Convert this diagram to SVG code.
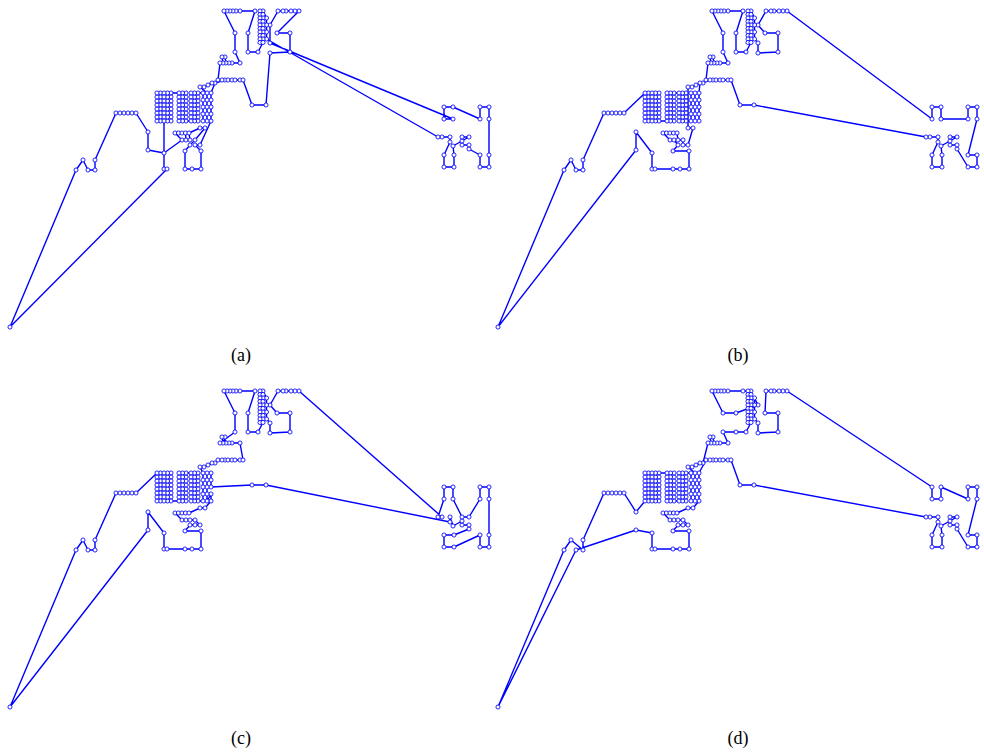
<svg xmlns="http://www.w3.org/2000/svg" xmlns:xlink="http://www.w3.org/1999/xlink" width="984" height="755" viewBox="0 0 984 755">
<style>
.tour{fill:none;stroke:#0000ff;stroke-width:1.4;stroke-linejoin:round}
.cities{fill:none;stroke:none;marker-start:url(#dot);marker-mid:url(#dot);marker-end:url(#dot)}
.cap{font-family:"Liberation Serif","DejaVu Serif",serif;font-size:18px;fill:#000;text-anchor:middle}
</style>
<defs>
<marker id="dot" viewBox="-3 -3 6 6" refX="0" refY="0" markerWidth="6" markerHeight="6" markerUnits="userSpaceOnUse" orient="0" overflow="visible"><circle r="2.05" fill="#fff" stroke="#0000ff" stroke-width="0.85"/></marker>
<polyline id="cities" class="cities" points="10,327 76,170 83,160 88,170 95,170 95,160 116,113 120,113 124,113 128,113 132,113 136,113 148,132 148,150 164,153 182,140 175,133 178.5,133 182,133 185.5,133 186,140 190,140 189,133 200,128 205,128 195,140 190,145 185,151 185,169 192,169 201,169 201,151 195,145 200,145 211,121 211,114 211,107 211,100 211,93 215,83 225,80 228,80 232,80 235,80 240,80 243,80 252,105 266,105 270,53 290,52 290,33 277,33 299,11 295,11 291,11 286,11 283,11 278,11 270,25 270,43 453,119 444,119 444,107 453,107 480,119 480,107 489,107 489,119 489,155 489,167 480,167 480,155 469,149 469,145 462,145 462,141 462,137 469,137 453,146 454,155 454,167 444,167 444,155 450,142 450,137 442,137 438,137 266.5,39 266.5,32 266.5,25 266.5,18 263,11 260,11 260,14.5 263,14.5 263,18 260,18 260,21.5 263,21.5 263,25 260,25 260,28.5 263,28.5 263,32 260,32 260,35.5 263,35.5 263,39 260,39 260,42.5 263,42.5 258,52 248,52 248,33 255,11 240,11 236,11 233,11 230,11 227,11 224,11 235,33 235,52 240,63 232,63 229,63 226,63 225,57 222,57 223,63 220,63 218,80 222,80 212,83 208,85 204,87 200,87 207,93 207,100 207,107 207,114 207,121 203,121 203,114 203,107 203,100 203,93 198,93 198,97 198,101 198,105 198,109 198,113 198,117 198,121 194.5,121 194.5,117 194.5,113 194.5,109 194.5,105 194.5,101 194.5,97 194.5,93 191,93 191,97 191,101 191,105 191,109 191,113 191,117 191,121 186,121 186,117 186,113 186,109 186,105 186,101 186,97 186,93 182.5,93 182.5,97 182.5,101 182.5,105 182.5,109 182.5,113 182.5,117 182.5,121 179,121 179,117 179,113 179,109 179,105 179,101 179,97 179,93 171,93 171,97 171,101 171,105 171,109 171,113 171,117 171,121 167.5,121 167.5,117 167.5,113 167.5,109 167.5,105 167.5,101 167.5,97 167.5,93 160.5,93 160.5,97 160.5,101 160.5,105 160.5,109 160.5,113 160.5,117 160.5,121 157,121 157,117 157,113 157,109 157,105 157,101 157,97 157,93 164,93 164,97 164,101 164,105 164,109 164,113 164,117 164,121 164,169 167,169"/>
</defs>

<g id="panel-a">
<g id="panel-a-connectors">
<polygon class="tour" points="10,327 76,170 83,160 88,170 95,170 95,160 116,113 120,113 124,113 128,113 132,113 136,113 148,132 148,150 164,153 182,140 175,133 178.5,133 182,133 185.5,133 186,140 190,140 189,133 200,128 205,128 195,140 190,145 185,151 185,169 192,169 201,169 201,151 195,145 200,145 211,121 211,114 211,107 211,100 211,93 215,83 225,80 228,80 232,80 235,80 240,80 243,80 252,105 266,105 270,53 290,52 290,33 277,33 299,11 295,11 291,11 286,11 283,11 278,11 270,25 270,43 453,119 444,119 444,107 453,107 480,119 480,107 489,107 489,119 489,155 489,167 480,167 480,155 469,149 469,145 462,145 462,141 462,137 469,137 453,146 454,155 454,167 444,167 444,155 450,142 450,137 442,137 438,137 266.5,39 266.5,32 266.5,25 266.5,18 263,11 260,11 260,14.5 263,14.5 263,18 260,18 260,21.5 263,21.5 263,25 260,25 260,28.5 263,28.5 263,32 260,32 260,35.5 263,35.5 263,39 260,39 260,42.5 263,42.5 258,52 248,52 248,33 255,11 240,11 236,11 233,11 230,11 227,11 224,11 235,33 235,52 240,63 232,63 229,63 226,63 225,57 222,57 223,63 220,63 218,80 222,80 212,83 208,85 204,87 200,87 207,93 207,100 207,107 207,114 207,121 203,121 203,114 203,107 203,100 203,93 198,93 198,97 198,101 198,105 198,109 198,113 198,117 198,121 194.5,121 194.5,117 194.5,113 194.5,109 194.5,105 194.5,101 194.5,97 194.5,93 191,93 191,97 191,101 191,105 191,109 191,113 191,117 191,121 186,121 186,117 186,113 186,109 186,105 186,101 186,97 186,93 182.5,93 182.5,97 182.5,101 182.5,105 182.5,109 182.5,113 182.5,117 182.5,121 179,121 179,117 179,113 179,109 179,105 179,101 179,97 179,93 171,93 171,97 171,101 171,105 171,109 171,113 171,117 171,121 167.5,121 167.5,117 167.5,113 167.5,109 167.5,105 167.5,101 167.5,97 167.5,93 160.5,93 160.5,97 160.5,101 160.5,105 160.5,109 160.5,113 160.5,117 160.5,121 157,121 157,117 157,113 157,109 157,105 157,101 157,97 157,93 164,93 164,97 164,101 164,105 164,109 164,113 164,117 164,121 164,169 167,169"/>
</g>
<g id="panel-a-nodes"><use href="#cities" xlink:href="#cities"/></g>
<text class="cap" x="241" y="361">(a)</text>
</g>

<g id="panel-b" transform="translate(488,0)">
<g id="panel-b-connectors">
<polygon class="tour" points="10,327 76,170 83,160 88,170 95,170 95,160 116,113 120,113 124,113 128,113 132,113 136,113 157,93 157,97 157,101 157,105 157,109 157,113 157,117 157,121 160.5,121 160.5,117 160.5,113 160.5,109 160.5,105 160.5,101 160.5,97 160.5,93 164,93 164,97 164,101 164,105 164,109 164,113 164,117 164,121 167.5,121 167.5,117 167.5,113 167.5,109 167.5,105 167.5,101 167.5,97 167.5,93 171,93 171,97 171,101 171,105 171,109 171,113 171,117 171,121 179,121 179,117 179,113 179,109 179,105 179,101 179,97 179,93 182.5,93 182.5,97 182.5,101 182.5,105 182.5,109 182.5,113 182.5,117 182.5,121 186,121 186,117 186,113 186,109 186,105 186,101 186,97 186,93 191,93 191,97 191,101 191,105 191,109 191,113 191,117 191,121 194.5,121 194.5,117 194.5,113 194.5,109 194.5,105 194.5,101 194.5,97 194.5,93 198,93 198,97 198,101 198,105 198,109 198,113 198,117 198,121 203,121 203,114 203,107 203,100 203,93 207,93 207,100 207,107 207,114 207,121 211,121 211,114 211,107 211,100 211,93 212,83 215,83 218,80 220,63 223,63 222,57 225,57 226,63 229,63 232,63 240,63 235,52 235,33 224,11 227,11 230,11 233,11 236,11 240,11 255,11 248,33 248,52 258,52 263,42.5 260,42.5 260,39 263,39 263,35.5 260,35.5 260,32 263,32 263,28.5 260,28.5 260,25 263,25 263,21.5 260,21.5 260,18 263,18 263,14.5 260,14.5 260,11 263,11 266.5,18 266.5,25 266.5,32 266.5,39 270,43 270,53 290,52 290,33 277,33 270,25 278,11 283,11 286,11 291,11 295,11 299,11 444,119 444,107 453,107 453,119 480,119 480,107 489,107 489,119 480,155 489,155 489,167 480,167 469,149 469,145 462,145 462,141 462,137 469,137 453,146 454,155 454,167 444,167 444,155 450,142 450,137 442,137 438,137 266,105 252,105 243,80 240,80 235,80 232,80 228,80 225,80 222,80 208,85 204,87 200,87 200,128 205,128 200,145 195,145 195,140 190,140 189,133 185.5,133 182,133 178.5,133 175,133 182,140 186,140 190,145 185,151 201,151 201,169 192,169 185,169 167,169 164,169 164,153 148,132 148,150"/>
</g>
<g id="panel-b-nodes"><use href="#cities" xlink:href="#cities"/></g>
<text class="cap" x="250" y="361">(b)</text>
</g>

<g id="panel-c" transform="translate(0,380)">
<g id="panel-c-connectors">
<polygon class="tour" points="10,327 76,170 83,160 88,170 95,170 95,160 116,113 120,113 124,113 128,113 132,113 136,113 157,93 157,97 157,101 157,105 157,109 157,113 157,117 157,121 160.5,121 160.5,117 160.5,113 160.5,109 160.5,105 160.5,101 160.5,97 160.5,93 164,93 164,97 164,101 164,105 164,109 164,113 164,117 164,121 167.5,121 167.5,117 167.5,113 167.5,109 167.5,105 167.5,101 167.5,97 167.5,93 171,93 171,97 171,101 171,105 171,109 171,113 171,117 171,121 179,121 179,117 179,113 179,109 179,105 179,101 179,97 179,93 182.5,93 182.5,97 182.5,101 182.5,105 182.5,109 182.5,113 182.5,117 182.5,121 186,121 186,117 186,113 186,109 186,105 186,101 186,97 186,93 191,93 191,97 191,101 191,105 191,109 191,113 191,117 191,121 194.5,121 194.5,117 194.5,113 194.5,109 194.5,105 194.5,101 194.5,97 194.5,93 198,93 198,97 198,101 198,105 198,109 198,113 198,117 198,121 203,121 203,114 203,107 203,100 203,93 200,87 204,87 208,85 212,83 215,83 218,80 222,80 225,80 228,80 232,80 235,80 240,80 243,80 240,63 232,63 229,63 226,63 225,57 222,57 223,63 220,63 235,52 235,33 224,11 227,11 230,11 233,11 236,11 240,11 255,11 248,33 248,52 258,52 263,42.5 260,42.5 260,39 263,39 263,35.5 260,35.5 260,32 263,32 263,28.5 260,28.5 260,25 263,25 263,21.5 260,21.5 260,18 263,18 263,14.5 260,14.5 260,11 263,11 266.5,18 266.5,25 266.5,32 266.5,39 270,43 270,53 290,52 290,33 277,33 270,25 278,11 283,11 286,11 291,11 295,11 299,11 442,137 438,137 444,119 444,107 453,107 453,119 462,137 469,137 480,119 480,107 489,107 489,119 489,155 489,167 480,167 480,155 454,167 444,167 444,155 454,155 469,149 469,145 462,145 462,141 453,146 450,137 450,142 266,105 252,105 211,107 211,100 211,93 207,93 207,100 207,107 207,114 207,121 211,114 211,121 205,128 200,128 189,133 185.5,133 182,133 178.5,133 175,133 182,140 186,140 190,140 195,140 200,145 195,145 190,145 185,151 201,151 201,169 192,169 185,169 167,169 164,169 164,153 148,132 148,150"/>
</g>
<g id="panel-c-nodes"><use href="#cities" xlink:href="#cities"/></g>
<text class="cap" x="241" y="364">(c)</text>
</g>

<g id="panel-d" transform="translate(488,380)">
<g id="panel-d-connectors">
<polygon class="tour" points="10,327 76,170 83,160 95,170 95,160 116,113 120,113 124,113 128,113 132,113 136,113 148,132 157,121 157,117 157,113 157,109 157,105 157,101 157,97 157,93 160.5,93 160.5,97 160.5,101 160.5,105 160.5,109 160.5,113 160.5,117 160.5,121 164,121 164,117 164,113 164,109 164,105 164,101 164,97 164,93 167.5,93 167.5,97 167.5,101 167.5,105 167.5,109 167.5,113 167.5,117 167.5,121 171,121 171,117 171,113 171,109 171,105 171,101 171,97 171,93 179,93 179,97 179,101 179,105 179,109 179,113 179,117 179,121 182.5,121 182.5,117 182.5,113 182.5,109 182.5,105 182.5,101 182.5,97 182.5,93 186,93 186,97 186,101 186,105 186,109 186,113 186,117 186,121 191,121 191,117 191,113 191,109 191,105 191,101 191,97 191,93 194.5,93 194.5,97 194.5,101 194.5,105 194.5,109 194.5,113 194.5,117 194.5,121 198,121 198,117 198,113 198,109 198,105 198,101 198,97 198,93 203,93 203,100 203,107 203,114 203,121 207,121 207,114 207,107 207,100 207,93 200,87 204,87 208,85 212,83 215,83 220,63 223,63 222,57 225,57 226,63 229,63 232,63 240,63 235,52 248,52 258,52 263,42.5 260,42.5 260,39 263,39 263,35.5 260,35.5 260,32 263,32 263,28.5 260,28.5 260,25 263,25 263,21.5 260,21.5 260,18 263,18 263,14.5 260,14.5 260,11 263,11 255,11 240,11 236,11 233,11 230,11 227,11 224,11 235,33 248,33 270,25 266.5,18 266.5,25 266.5,32 266.5,39 270,43 270,53 290,52 290,33 277,33 278,11 283,11 286,11 291,11 295,11 299,11 444,107 444,119 453,119 453,107 480,119 480,107 489,107 489,119 480,155 489,155 489,167 480,167 469,149 469,145 462,145 462,141 462,137 469,137 453,146 454,155 454,167 444,167 444,155 450,142 450,137 442,137 438,137 266,105 252,105 243,80 240,80 235,80 232,80 228,80 225,80 222,80 218,80 211,93 211,100 211,107 211,114 211,121 205,128 200,128 189,133 185.5,133 182,133 178.5,133 175,133 182,140 186,140 190,140 195,140 200,145 195,145 190,145 185,151 201,151 201,169 192,169 185,169 167,169 164,169 164,153 148,150 88,170"/>
</g>
<g id="panel-d-nodes"><use href="#cities" xlink:href="#cities"/></g>
<text class="cap" x="250" y="364">(d)</text>
</g>
</svg>
